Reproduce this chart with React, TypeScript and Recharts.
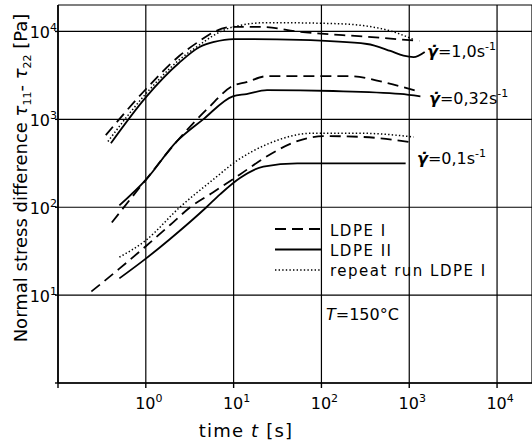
import React from 'react';
import { LineChart, Line, XAxis, YAxis, CartesianGrid } from 'recharts';

const FONT = '"DejaVu Sans", "Liberation Sans", sans-serif';

const xTicks = [0.1, 1, 10, 100, 1000, 10000];
const yTicks = [1, 10, 100, 1000, 10000];

// shear rate 1,0 s^-1
const tHighDashed = [0.35, 1, 2.4, 4.1, 6, 10, 20, 57, 330, 1300];
const nHighDashed = [660, 2200, 5250, 7800, 9900, 11300, 11300, 9900, 8700, 7800];
const tHighSolid = [0.4, 1, 2.4, 4.1, 6, 10, 57, 330, 610, 860, 1120, 1500];
const nHighSolid = [535, 1780, 4400, 6650, 7600, 8200, 8000, 7200, 6000, 5300, 5100, 5850];
const tHighDotted = [0.37, 1, 2.4, 4.1, 6, 10, 24, 136, 330, 660, 1120];
const nHighDotted = [560, 1950, 4750, 7050, 9100, 11300, 12600, 12300, 11500, 9900, 8100];

// shear rate 0,32 s^-1
const tMidDashed = [0.41, 1, 2.25, 5, 9.8, 14, 24, 213, 510, 1340];
const nMidDashed = [67, 205, 560, 1310, 2400, 2650, 3100, 3100, 2650, 2040];
const tMidSolid = [0.5, 1, 2.25, 4.5, 9.8, 14, 24, 136, 790, 1340];
const nMidSolid = [105, 205, 560, 1000, 1830, 1940, 2150, 2100, 1950, 1830];

// shear rate 0,1 s^-1
const tLowDashed = [0.24, 0.5, 1, 2, 3.2, 5.8, 11.8, 24, 53, 105, 300, 1030];
const nLowDashed = [11, 20, 36, 66, 100, 147, 236, 380, 565, 645, 630, 550];
const tLowSolid = [0.5, 1, 1.86, 4.9, 7, 11.8, 21.8, 53, 197, 910];
const nLowSolid = [15.5, 26, 43, 100, 140, 215, 290, 316, 316, 316];
const tLowDotted = [0.5, 1, 2.44, 5.8, 11, 24, 81, 277, 1120];
const nLowDotted = [27, 42, 100, 205, 340, 520, 695, 695, 630];

const toPoints = (t: number[], n: number[]) => t.map((v, i) => ({ t: v, n: n[i] }));

const DASHED = '11 6';
const DOTTED = '1.4 2.2';

const series = [
  { key: 'hd', data: toPoints(tHighDashed, nHighDashed), dash: DASHED },
  { key: 'hs', data: toPoints(tHighSolid, nHighSolid), dash: undefined },
  { key: 'ho', data: toPoints(tHighDotted, nHighDotted), dash: DOTTED },
  { key: 'md', data: toPoints(tMidDashed, nMidDashed), dash: DASHED },
  { key: 'ms', data: toPoints(tMidSolid, nMidSolid), dash: undefined },
  { key: 'ld', data: toPoints(tLowDashed, nLowDashed), dash: DASHED },
  { key: 'ls', data: toPoints(tLowSolid, nLowSolid), dash: undefined },
  { key: 'lo', data: toPoints(tLowDotted, nLowDotted), dash: DOTTED },
];

const legendItems = [
  { label: 'LDPE I', dash: DASHED },
  { label: 'LDPE II', dash: undefined },
  { label: 'repeat run LDPE I', dash: DOTTED },
];

const exponent = (v: number) => Math.round(Math.log10(v));

const XTick = (props: any) => {
  const { x, y, payload } = props;
  if (payload.value < 1) return <g />;
  return (
    <text x={x + 3} y={y + 19} textAnchor="middle" fontSize={16} fontFamily={FONT} fill="#000">
      <tspan>10</tspan>
      <tspan dy={-7} fontSize={11}>{exponent(payload.value)}</tspan>
    </text>
  );
};

const YTick = (props: any) => {
  const { x, y, payload } = props;
  if (payload.value < 10) return <g />;
  return (
    <text x={x + 4} y={y + 7} textAnchor="end" fontSize={16} fontFamily={FONT} fill="#000">
      <tspan>10</tspan>
      <tspan dy={-7} fontSize={11}>{exponent(payload.value)}</tspan>
    </text>
  );
};

const RateLabel = ({ x, y, rate }: { x: number; y: number; rate: string }) => (
  <text x={x} y={y} fontSize={16} fontFamily={FONT} fill="#000">
    <tspan fontStyle="italic" fontWeight="bold">γ̇</tspan>
    <tspan>={rate}s</tspan>
    <tspan dy={-7} fontSize={11}>-1</tspan>
  </text>
);

export default function App() {
  return (
    <div style={{ position: 'absolute', left: 0, top: 0, background: '#fff' }}>
      <LineChart width={532} height={447} margin={{ top: 5, right: 0, bottom: 0, left: 0 }}>
        <CartesianGrid stroke="#000" strokeWidth={1.2} />
        <XAxis
          dataKey="t"
          type="number"
          scale="log"
          domain={[0.1, 25000]}
          ticks={xTicks}
          allowDataOverflow
          height={64}
          tickSize={5}
          tick={XTick}
          axisLine={{ stroke: '#000', strokeWidth: 1.6 }}
          tickLine={{ stroke: '#000', strokeWidth: 1.4 }}
        />
        <YAxis
          dataKey="n"
          type="number"
          scale="log"
          domain={[1, 20000]}
          ticks={yTicks}
          allowDataOverflow
          width={58}
          tickSize={3}
          tick={YTick}
          axisLine={{ stroke: '#000', strokeWidth: 1.6 }}
          tickLine={{ stroke: '#000', strokeWidth: 1.4 }}
        />
        {series.map((s) => (
          <Line
            key={s.key}
            data={s.data}
            dataKey="n"
            type="monotone"
            stroke="#000"
            strokeWidth={s.dash === DOTTED ? 1.5 : 1.8}
            strokeDasharray={s.dash}
            dot={false}
            activeDot={false}
            isAnimationActive={false}
          />
        ))}

        <text
          transform="rotate(-90)"
          x={-178}
          y={27}
          textAnchor="middle"
          fontSize={18}
          fontFamily={FONT}
          fill="#000"
        >
          <tspan>Normal stress difference </tspan>
          <tspan fontStyle="italic">τ</tspan>
          <tspan dy={4} fontSize={11}>11</tspan>
          <tspan dy={-4}>- </tspan>
          <tspan fontStyle="italic">τ</tspan>
          <tspan dy={4} fontSize={11}>22</tspan>
          <tspan dy={-4}> [Pa]</tspan>
        </text>
        <text
          x={246}
          y={437}
          textAnchor="middle"
          fontSize={18}
          letterSpacing={1.2}
          fontFamily={FONT}
          fill="#000"
        >
          time <tspan fontStyle="italic">t</tspan> [s]
        </text>

        <RateLabel x={427} y={57} rate="1,0" />
        <RateLabel x={429} y={104} rate="0,32" />
        <RateLabel x={417} y={164} rate="0,1" />

        {legendItems.map((item, i) => (
          <g key={item.label}>
            <line
              x1={275}
              x2={322}
              y1={229 + i * 20.5}
              y2={229 + i * 20.5}
              stroke="#000"
              strokeWidth={item.dash === DOTTED ? 1.3 : 1.8}
              strokeDasharray={item.dash}
            />
            <text
              x={330}
              y={236 + i * 20}
              fontSize={15}
              letterSpacing={1.5}
              fontFamily={FONT}
              fill="#000"
            >
              {item.label}
            </text>
          </g>
        ))}
        <text x={326} y={320} fontSize={16} fontFamily={FONT} fill="#000">
          <tspan fontStyle="italic">T</tspan>=150°C
        </text>
      </LineChart>
    </div>
  );
}
